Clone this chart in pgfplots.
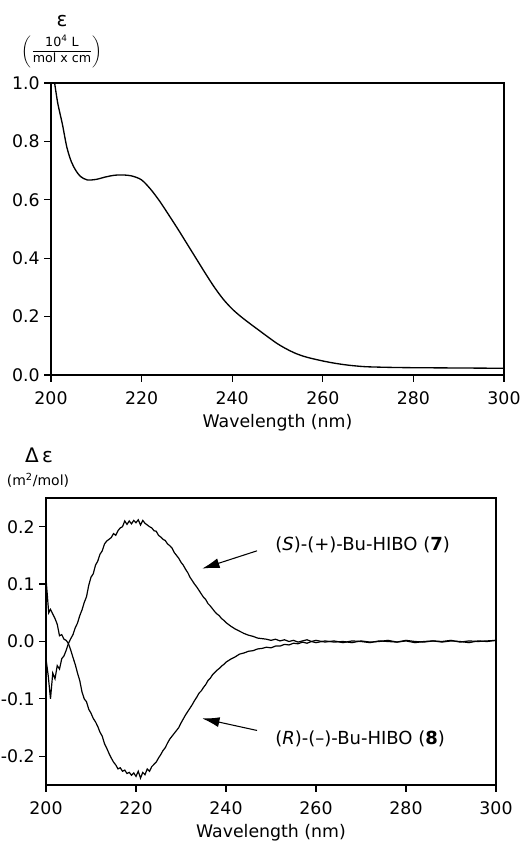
\documentclass[border=0pt]{standalone}
\usepackage{pgfplots}
\pgfplotsset{compat=1.18}
\usepackage{fontspec}
\setmainfont{DejaVu Sans}
\usetikzlibrary{arrows.meta}

% shared look of both panels
\pgfplotsset{
  spectrum/.style={
    scale only axis,
    anchor=south west,
    xmin=200, xmax=300,
    xtick={200,220,...,300},
    xtick pos=bottom, ytick pos=left,
    tick align=outside,
    major tick length=5pt,
    axis line style={line width=0.9pt},
    every tick/.style={black, line width=0.9pt},
    tick label style={font=\fontsize{13}{15}\selectfont},
    /pgf/number format/assume math mode=true,
    yticklabel style={/pgf/number format/.cd, fixed, fixed zerofill, precision=1},
    xticklabel style={yshift=-4pt, /pgf/number format/.cd, fixed, precision=0, 1000 sep={}},
    xlabel={Wavelength (nm)},
    xlabel style={font=\fontsize{13}{15}\selectfont, at={(axis description cs:0.5,0)}, anchor=center, yshift=-36pt},
    clip=true,
  },
}

\begin{document}
\begin{tikzpicture}
\useasboundingbox (0,0) rectangle (393.75pt,631.5pt);

% ---- absorption spectrum ----
\begin{axis}[
  spectrum,
  at={(38.25pt,350.25pt)},
  width=339.75pt, height=219pt,
  ymin=0, ymax=1,
  ytick={0,0.2,...,1.0},
]
\addplot[black, line width=1pt, smooth] coordinates {
  (200.8,1.00) (201.5,0.93) (202.5,0.86) (203.5,0.78) (204.5,0.73)
  (205.5,0.70) (206.5,0.68) (208,0.668) (210,0.670) (212,0.678)
  (214,0.684) (216,0.685) (218,0.681) (220,0.668) (222,0.636)
  (224,0.595) (226,0.548) (228,0.500) (230,0.450) (232,0.400)
  (234,0.350) (236,0.302) (238,0.260) (240,0.226) (242,0.199)
  (244,0.175) (246,0.152) (248,0.129) (250,0.107) (252,0.089)
  (254,0.074) (256,0.063) (258,0.055) (260,0.048) (262,0.042)
  (264,0.037) (266,0.033) (268,0.030) (270,0.028) (275,0.026)
  (280,0.025) (290,0.024) (300,0.023)
};
\end{axis}

% ---- CD spectra ----
\begin{axis}[
  spectrum,
  at={(34.5pt,42.75pt)},
  width=337.5pt, height=215.25pt,
  ymin=-0.25, ymax=0.25,
  ytick={-0.2,-0.1,0,0.1,0.2},
]
% (S)-(+)-Bu-HIBO (7)
\addplot[black, line width=0.9pt] coordinates {
  (200.0,-0.030) (200.5,-0.060) (201.0,-0.100) (201.5,-0.055) (202.0,-0.065)
  (202.5,-0.042) (203.0,-0.048) (203.5,-0.030) (204.0,-0.025) (204.5,-0.015)
  (205.0,-0.003) (205.5,0.005) (206.0,0.012) (206.5,0.024) (207.0,0.032)
  (207.5,0.045) (208.0,0.055) (208.5,0.068) (209.0,0.078) (209.5,0.098)
  (210.0,0.112) (210.5,0.118) (211.0,0.133) (211.5,0.140) (212.0,0.152)
  (212.5,0.158) (213.0,0.170) (213.5,0.175) (214.0,0.178) (214.5,0.181)
  (215.0,0.188) (215.5,0.185) (216.0,0.193) (216.5,0.198) (217.0,0.200)
  (217.5,0.210) (218.0,0.204) (218.5,0.210) (219.0,0.205) (219.5,0.211)
  (220.0,0.207) (220.5,0.212) (221.0,0.203) (221.5,0.211) (222.0,0.206)
  (222.5,0.203) (223.0,0.200) (223.5,0.198) (224.0,0.193) (224.5,0.192)
  (225.0,0.185) (225.5,0.182) (226.0,0.178) (226.5,0.176) (227.0,0.170)
  (227.5,0.167) (228.0,0.163) (228.5,0.155) (229.0,0.150) (229.5,0.145)
  (230.0,0.138) (230.5,0.133) (231.0,0.126) (231.5,0.120) (232.0,0.112)
  (232.5,0.106) (233.0,0.100) (233.5,0.095) (234.0,0.089) (234.5,0.083)
  (235.0,0.077) (235.5,0.073) (236.0,0.066) (236.5,0.062) (237.0,0.057)
  (237.5,0.052) (238.0,0.048) (238.5,0.045) (239.0,0.040) (239.5,0.037)
  (240,0.033) (241,0.027) (242,0.022) (243,0.018) (244,0.014)
  (245,0.011) (246,0.009) (247,0.006) (248,0.005) (249,0.004)
  (250,0.002) (251,0.004) (252,0.001) (253,0.003) (254,0.000)
  (255,0.002) (256,-0.001) (257,0.001) (258,0.003) (259,0.000)
  (260,0.002) (262,-0.001) (264,0.001) (266,-0.002) (268,0.001)
  (270,0.000) (272,-0.002) (274,0.001) (276,0.000) (278,-0.001)
  (280,0.002) (282,0.000) (284,-0.001) (286,0.001) (288,0.000)
  (290,0.002) (292,-0.001) (294,0.001) (296,0.000) (298,0.001)
  (300,0.002)
};
% (R)-(-)-Bu-HIBO (8)
\addplot[black, line width=0.9pt] coordinates {
  (200.0,0.110) (200.3,0.080) (200.6,0.050) (201.0,0.056) (201.5,0.048)
  (202.0,0.040) (202.5,0.030) (203.0,0.010) (203.5,0.012) (204.0,0.004)
  (204.5,0.002) (205.0,-0.004) (205.5,-0.015) (206.0,-0.028) (206.5,-0.040)
  (207.0,-0.055) (207.5,-0.068) (208.0,-0.088) (208.5,-0.100) (209.0,-0.105)
  (209.5,-0.118) (210.0,-0.125) (210.5,-0.134) (211.0,-0.140) (211.5,-0.148)
  (212.0,-0.158) (212.5,-0.165) (213.0,-0.178) (213.5,-0.186) (214.0,-0.195)
  (214.5,-0.203) (215.0,-0.210) (215.5,-0.215) (216.0,-0.222) (216.5,-0.220)
  (217.0,-0.226) (217.5,-0.224) (218.0,-0.230) (218.5,-0.228) (219.0,-0.233)
  (219.5,-0.229) (220.0,-0.235) (220.5,-0.226) (221.0,-0.238) (221.5,-0.228)
  (222.0,-0.232) (222.5,-0.222) (223.0,-0.226) (223.5,-0.218) (224.0,-0.214)
  (224.5,-0.210) (225.0,-0.203) (225.5,-0.197) (226.0,-0.190) (226.5,-0.185)
  (227.0,-0.177) (227.5,-0.170) (228.0,-0.165) (228.5,-0.160) (229.0,-0.155)
  (229.5,-0.150) (230.0,-0.142) (230.5,-0.135) (231.0,-0.128) (231.5,-0.122)
  (232.0,-0.116) (232.5,-0.110) (233.0,-0.103) (233.5,-0.097) (234.0,-0.090)
  (234.5,-0.086) (235.0,-0.080) (235.5,-0.075) (236.0,-0.068) (236.5,-0.064)
  (237.0,-0.058) (237.5,-0.054) (238.0,-0.050) (238.5,-0.047) (239.0,-0.043)
  (239.5,-0.040) (240,-0.036) (241,-0.031) (242,-0.027) (243,-0.022)
  (244,-0.020) (245,-0.017) (246,-0.016) (247,-0.013) (248,-0.012)
  (249,-0.010) (250,-0.011) (251,-0.008) (252,-0.008) (253,-0.005)
  (254,-0.006) (255,-0.003) (256,-0.004) (257,-0.001) (258,-0.003)
  (259,0.000) (260,-0.002) (262,0.001) (264,-0.001) (266,0.000)
  (268,-0.002) (270,0.001) (272,-0.001) (274,0.000) (276,0.002)
  (278,-0.001) (280,0.001) (282,-0.002) (284,0.000) (286,0.001)
  (288,-0.001) (290,0.001) (292,0.000) (294,-0.002) (296,0.001)
  (298,0.000) (300,0.002)
};
\draw[-{Latex[length=13pt,width=7.5pt]}, line width=0.8pt]
  (axis cs:246.9,0.158) -- (axis cs:234.7,0.127);
\draw[-{Latex[length=13pt,width=7.5pt]}, line width=0.8pt]
  (axis cs:246.9,-0.155) -- (axis cs:234.7,-0.134);
\node[anchor=west, inner sep=0pt, font=\fontsize{13.5}{15}\selectfont]
  at (axis cs:250.9,0.169) {(\textit{S})-(+)-Bu-HIBO (\textbf{7})};
\node[anchor=west, inner sep=0pt, font=\fontsize{13.5}{15}\selectfont]
  at (axis cs:250.9,-0.169) {(\textit{R})-(–)-Bu-HIBO (\textbf{8})};
\end{axis}

% y-axis captions
\node[font=\fontsize{15}{17}\selectfont] at (46.5pt,615.75pt) {ε};
\node[font=\fontsize{9.5}{11}\selectfont] at (46.5pt,593pt)
  {$\displaystyle\left(\frac{\mbox{10\textsuperscript{4} L}}{\mbox{mol x cm}}\right)$};
\node[font=\fontsize{15}{17}\selectfont] at (29.25pt,290.25pt) {Δ\,ε};
\node[font=\fontsize{10.5}{12}\selectfont] at (28.5pt,271.5pt) {(m\textsuperscript{2}/mol)};
\end{tikzpicture}
\end{document}
